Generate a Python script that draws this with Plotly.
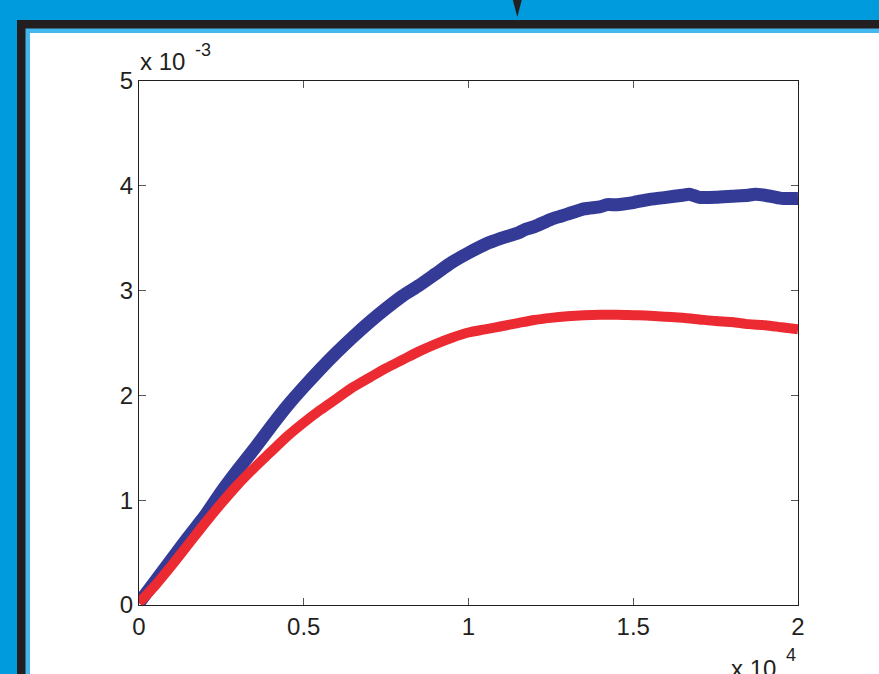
import plotly.graph_objects as go

# x in units of 1e4, y in units of 1e-3
blue_x = [0, 0.05, 0.1, 0.15, 0.2, 0.25, 0.3, 0.35, 0.4, 0.45, 0.5, 0.55, 0.6, 0.65, 0.7,
          0.75, 0.8, 0.85, 0.9, 0.95, 1.0, 1.05, 1.1, 1.15, 1.17, 1.2, 1.25, 1.28, 1.3, 1.35,
          1.4, 1.42, 1.45, 1.5, 1.55, 1.6, 1.65, 1.67, 1.7, 1.75, 1.8, 1.85, 1.87, 1.9, 1.95, 2.0]
blue_y = [0.02, 0.23, 0.44, 0.65, 0.85, 1.08, 1.29, 1.49, 1.70, 1.90, 2.08, 2.25, 2.41, 2.56, 2.70,
          2.83, 2.95, 3.05, 3.16, 3.27, 3.36, 3.44, 3.50, 3.55, 3.58, 3.61, 3.68, 3.71, 3.73, 3.78,
          3.80, 3.82, 3.82, 3.84, 3.87, 3.89, 3.91, 3.92, 3.89, 3.89, 3.90, 3.91, 3.92, 3.91, 3.88, 3.88]

red_x = [0, 0.05, 0.1, 0.15, 0.2, 0.25, 0.3, 0.35, 0.4, 0.45, 0.5, 0.55, 0.6, 0.65, 0.7,
         0.75, 0.8, 0.85, 0.9, 0.95, 1.0, 1.05, 1.1, 1.15, 1.2, 1.25, 1.3, 1.35, 1.4, 1.45,
         1.5, 1.55, 1.6, 1.65, 1.7, 1.75, 1.8, 1.85, 1.9, 1.95, 2.0]
red_y = [0.02, 0.19, 0.38, 0.58, 0.78, 0.97, 1.15, 1.31, 1.46, 1.61, 1.74, 1.86, 1.97, 2.08, 2.17,
         2.26, 2.34, 2.42, 2.49, 2.55, 2.60, 2.63, 2.66, 2.69, 2.72, 2.74, 2.755, 2.765, 2.77, 2.77,
         2.765, 2.76, 2.75, 2.74, 2.725, 2.71, 2.70, 2.68, 2.67, 2.65, 2.63]

x_ticks = [0, 0.5, 1, 1.5, 2]
x_tick_labels = ["0", "0.5", "1", "1.5", "2"]
y_ticks = [0, 1, 2, 3, 4, 5]
y_tick_labels = ["0", "1", "2", "3", "4", "5"]

W, H = 879, 674
L, R, T, B = 139, 798, 81, 605

def px(x):
    return (x - L) / (R - L)

def py(y):
    return (B - y) / (B - T)

INK = "#231f20"
FONT = "Liberation Sans, Arial, sans-serif"

fig = go.Figure()
fig.add_trace(go.Scatter(x=blue_x, y=blue_y, mode="lines",
                         line=dict(color="#343b97", width=13, shape="spline", smoothing=0.6),
                         hoverinfo="skip"))
fig.add_trace(go.Scatter(x=red_x, y=red_y, mode="lines",
                         line=dict(color="#ec2a32", width=10, shape="spline", smoothing=0.8),
                         hoverinfo="skip"))

shapes = [
    dict(type="rect", xref="paper", yref="paper", x0=px(17), x1=px(W + 10), y0=py(20), y1=py(H + 10),
         fillcolor=INK, line=dict(width=0), layer="below"),
    dict(type="rect", xref="paper", yref="paper", x0=px(25.5), x1=px(W + 10), y0=py(28.5), y1=py(H + 10),
         fillcolor="#44b8ec", line=dict(width=0), layer="below"),
    dict(type="rect", xref="paper", yref="paper", x0=px(30), x1=px(W + 10), y0=py(33), y1=py(H + 10),
         fillcolor="white", line=dict(width=0), layer="below"),
    dict(type="path", xref="paper", yref="paper",
         path=f"M {px(512.5)} {py(-1)} L {px(522)} {py(-1)} L {px(517.3)} {py(17)} Z",
         fillcolor=INK, line=dict(width=0), layer="below"),
]

annotations = [
    dict(text="x 10", xref="paper", yref="paper", x=px(138), y=py(62), xanchor="left", yanchor="middle",
         showarrow=False, font=dict(family=FONT, size=24, color=INK)),
    dict(text="-3", xref="paper", yref="paper", x=px(193), y=py(50), xanchor="left", yanchor="middle",
         showarrow=False, font=dict(family=FONT, size=18, color=INK)),
    dict(text="x 10", xref="paper", yref="paper", x=px(729), y=py(668), xanchor="left", yanchor="middle",
         showarrow=False, font=dict(family=FONT, size=24, color=INK)),
    dict(text="4", xref="paper", yref="paper", x=px(784), y=py(655), xanchor="left", yanchor="middle",
         showarrow=False, font=dict(family=FONT, size=18, color=INK)),
]

axis_common = dict(showgrid=False, zeroline=False, showline=True, linecolor=INK, linewidth=1,
                   mirror="ticks", ticks="inside", ticklen=7, tickcolor="#555555", tickwidth=1,
                   tickfont=dict(family=FONT, size=24, color=INK))

fig.update_layout(
    width=W, height=H,
    margin=dict(l=L, r=W - R, t=T, b=H - B, pad=0),
    paper_bgcolor="#009bdc",
    plot_bgcolor="rgba(0,0,0,0)",
    showlegend=False,
    shapes=shapes,
    annotations=annotations,
    xaxis=dict(range=[0, 2], tickvals=x_ticks, ticktext=x_tick_labels, **axis_common),
    yaxis=dict(range=[0, 5], tickvals=y_ticks, ticktext=y_tick_labels, **axis_common),
)

fig.write_html("out.html", config={"displayModeBar": False},
               post_script="document.body.style.margin='0';document.body.style.overflow='hidden';")
